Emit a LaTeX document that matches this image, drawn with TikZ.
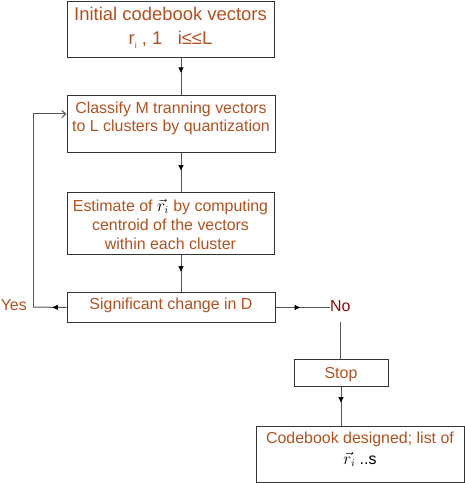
\documentclass[tikz,border=0pt]{standalone}
\usepackage{fontspec}
\setmainfont{Liberation Sans}
\usetikzlibrary{arrows.meta,decorations.markings}

\definecolor{txtbrown}{RGB}{180,80,30}
\definecolor{nored}{RGB}{140,10,10}
\definecolor{linegray}{RGB}{85,85,85}

% top aligned text block of fixed size
\newcommand{\boxtext}[3]{\parbox[t][#2][t]{#1}{\centering\strut #3}}

\begin{document}
\begin{tikzpicture}[x=1bp, y=1bp,
  box/.style={draw=black!80, line width=1bp, text=txtbrown, inner xsep=0bp, anchor=north},
  link/.style={draw=linegray, line width=1bp},
  midarrow/.style={postaction={decorate}, decoration={markings,
      mark=at position #1 with {\arrow[black]{Triangle[length=5.5bp,width=5bp]}}}}
]
\useasboundingbox (0,0) rectangle (465,-483);

\node[box, minimum width=207bp, inner ysep=1.1bp, font=\fontsize{18.5}{25}\selectfont] (init) at (170.5,-1)
  {\boxtext{203bp}{53.8bp}{Initial codebook vectors\\ r\raisebox{-0.4ex}{\fontsize{9}{9}\selectfont i} , 1 \ \ i≤≤L}};
\node[box, minimum width=208bp, inner ysep=5.1bp, font=\fontsize{16}{18}\selectfont] (classify) at (171,-95)
  {\boxtext{204bp}{46.8bp}{Classify M tranning vectors\\ to L clusters by quantization}};
\node[box, minimum width=207bp, inner ysep=5.4bp, font=\fontsize{16}{19}\selectfont] (estimate) at (170.5,-192)
  {\boxtext{204bp}{51.2bp}{Estimate of {\color{black}$\vec{r}_{i}$} by computing\\ centroid of the vectors\\ within each cluster}};
\node[box, minimum width=208bp, inner ysep=0bp, text height=16.7bp, text depth=13.3bp, font=\fontsize{16}{19}\selectfont] (change) at (171,-292)
  {Significant change in D};
\node[box, minimum width=94bp, inner ysep=0bp, text height=18.7bp, text depth=8.3bp, font=\fontsize{16}{19}\selectfont] (stop) at (341,-359)
  {Stop};
\node[box, minimum width=208bp, inner ysep=2bp, font=\fontsize{16}{21}\selectfont] (designed) at (360,-426)
  {\boxtext{204bp}{52bp}{Codebook designed; list of\\ {\color{black}$\vec{r}_{i}$ ..s}}};

\node[text=nored, inner sep=0bp, anchor=west, text height=11.5bp, text depth=10.3bp, font=\fontsize{16}{19}\selectfont] (no) at (330,-311.1) {No};
\node[text=txtbrown, inner sep=0bp, font=\fontsize{16}{19}\selectfont] (yes) at (13.8,-305) {Yes};

\coordinate (spine) at (181,0);
\coordinate (yc) at (33,-307);
\coordinate (fb) at (33,-114);

\draw[link, midarrow=0.4] (init.south -| spine) -- (classify.north -| spine);
\draw[link, midarrow=0.45] (classify.south -| spine) -- (estimate.north -| spine);
\draw[link, midarrow=0.45] (estimate.south -| spine) -- (change.north -| spine);
\draw[link, midarrow=0.45] (change.east) -- (change.east -| no.west);
\draw[link, midarrow=0.42] (change.west) -- (yc);
\draw[link, -{Straight Barb[length=4bp,width=7bp]}] (yc) -- (fb) -- (fb -| classify.west);
\draw[link] (no.south) -- (no.south |- stop.north);
\draw[link, midarrow=0.4] (stop.south) -- (stop.south |- designed.north);
\end{tikzpicture}
\end{document}
